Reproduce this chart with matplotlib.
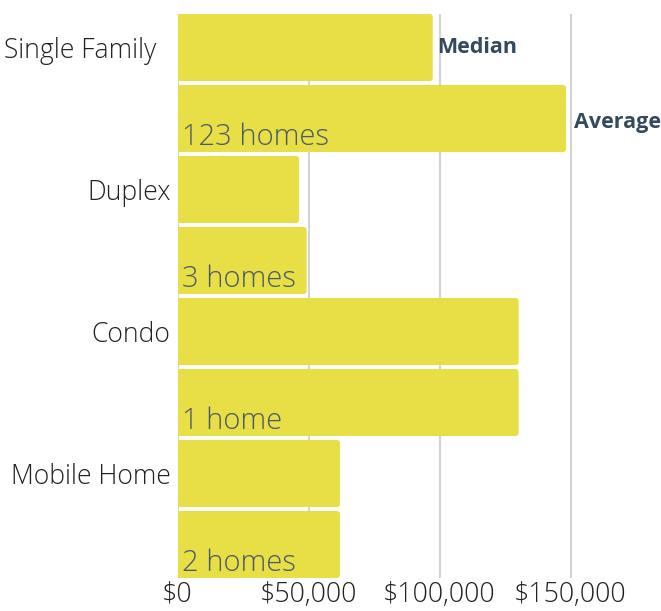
import numpy as np
import matplotlib.pyplot as plt
from matplotlib.patches import FancyBboxPatch
from matplotlib.ticker import FuncFormatter
from matplotlib.transforms import ScaledTranslation

# home prices by type
categories = ['Single Family', 'Duplex', 'Condo', 'Mobile Home']
median_price = [97400, 46400, 130200, 62000]
average_price = [148300, 49300, 130200, 62000]
home_counts = [123, 3, 1, 2]
xticks = [0, 50000, 100000, 150000]

bar_color = '#e8df47'
label_color = '#34495e'
count_color = '#4b5a6a'

plt.rcParams['font.family'] = ['Open Sans', 'DejaVu Sans']
plt.rcParams['font.weight'] = 300

fig = plt.figure(figsize=(6.61, 6.11), dpi=100)
ax = fig.add_axes([177.5 / 661, 33 / 611, 483.5 / 661, 564 / 611])

bar_h = 67 / 71
xmax = 483.5 / 2.62 * 1000
ax.set_xlim(0, xmax)
ax.set_ylim(7.5 - 0.028, -0.5 + 0.028)

# rounded bars: 3 px radius in both directions
rx = 3 / 2.62 * 1000
ry = 3 / 71
for i in range(len(categories)):
    for j, val in enumerate([median_price[i], average_price[i]]):
        y = 2 * i + j
        p = FancyBboxPatch((-rx * 2, y - bar_h / 2), val + rx * 2, bar_h,
                           boxstyle='round,pad=0,rounding_size=%f' % rx,
                           mutation_aspect=ry / rx,
                           facecolor=bar_color, edgecolor='none', zorder=3)
        ax.add_patch(p)
    # count label inside the average bar
    n = home_counts[i]
    txt = '%d home' % n if n == 1 else '%d homes' % n
    ax.annotate(txt, xy=(0, 2 * i + 1 + bar_h / 2), xytext=(5, 7),
                textcoords='offset pixels', ha='left', va='baseline',
                fontsize=21, color=count_color, zorder=4)

# series labels on the first category
ax.annotate('Median', xy=(median_price[0], 0), xytext=(4, 0),
            textcoords='offset pixels', ha='left', va='center',
            fontsize=15.5, fontweight='bold', color=label_color)
ax.annotate('Average', xy=(average_price[0], 1), xytext=(8, -4),
            textcoords='offset pixels', ha='left', va='center',
            fontsize=15.5, fontweight='bold', color=label_color)

ax.set_xticks(xticks)
ax.xaxis.set_major_formatter(FuncFormatter(lambda v, p: '${:,.0f}'.format(v)))
ax.set_yticks([2 * i for i in range(len(categories))])
ax.set_yticklabels(categories)
ax.tick_params(axis='both', length=0, labelcolor='#222222')
ax.tick_params(axis='x', pad=2, labelsize=19.3)
ax.tick_params(axis='y', pad=5, labelsize=19.1)
lbl = ax.get_yticklabels()[0]
lbl.set_transform(lbl.get_transform() + ScaledTranslation(-0.14, 0, fig.dpi_scale_trans))

ax.grid(axis='x', color='#d3d3d3', linewidth=1.5, zorder=0)
ax.set_axisbelow(True)
for s in ax.spines.values():
    s.set_visible(False)

fig.savefig('out.png', dpi=100)
